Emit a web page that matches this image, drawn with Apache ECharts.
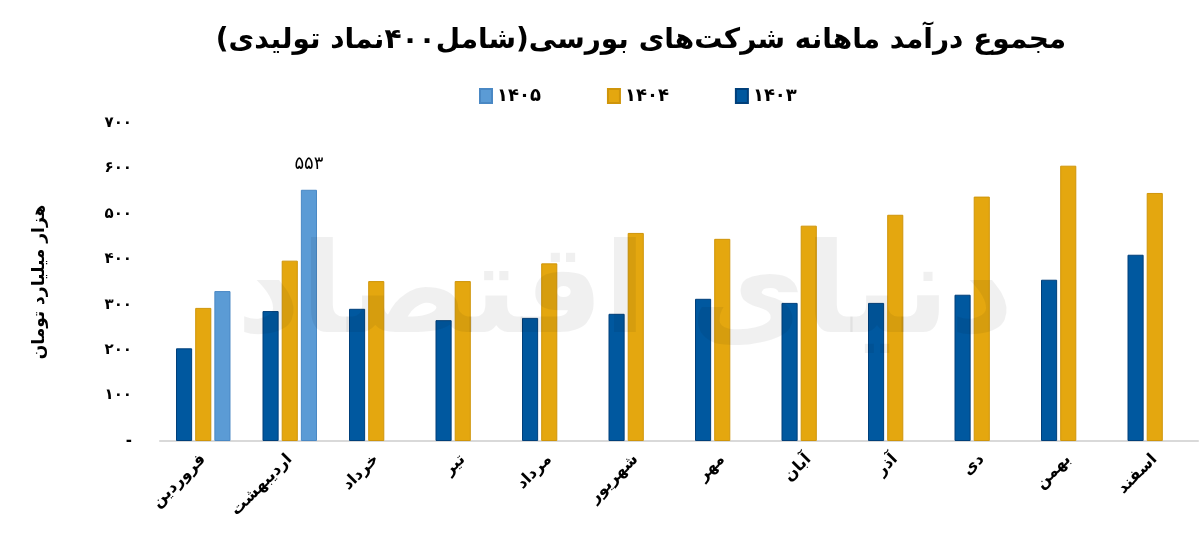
<!DOCTYPE html>
<html><head><meta charset="utf-8">
<script src="https://cdn.jsdelivr.net/npm/echarts@6/dist/echarts.min.js"></script>
<style>html,body{margin:0;padding:0;background:#fff}#c{width:1200px;height:556px}</style>
</head><body><div id="c"></div>
<script>
const categories = ['فروردین','اردیبهشت','خرداد','تیر','مرداد','شهریور','مهر','آبان','آذر','دی','بهمن','اسفند'];
const s1403 = [204, 286, 291, 266, 271, 280, 313, 304, 304, 322, 355, 410];
const s1404 = [293, 397, 352, 352, 391, 458, 445, 474, 498, 538, 606, 546];
const s1405 = [330, 553, null, null, null, null, null, null, null, null, null, null];
const seriesNames = ['۱۴۰۳', '۱۴۰۴', '۱۴۰۵'];
const yTickLabels = ['-', '۱۰۰', '۲۰۰', '۳۰۰', '۴۰۰', '۵۰۰', '۶۰۰', '۷۰۰'];
const labeledBar = { series: 2, index: 1, text: '۵۵۳' };

const FONT = 'DejaVu Sans';
const chart = echarts.init(document.getElementById('c'), null, { renderer: 'canvas' });
const colors = ['#00589f', '#e4a70f', '#5b9bd5'];
const borders = ['#003f7a', '#cf950a', '#4a88c4'];
const dataSets = [s1403, s1404, s1405];

chart.setOption({
  animation: false,
  backgroundColor: '#fff',
  textStyle: { fontFamily: FONT },
  title: {
    text: 'مجموع درآمد ماهانه شرکت‌های بورسی(شامل۴۰۰نماد تولیدی)',
    left: 636, top: 22, textAlign: 'center',
    textStyle: { fontFamily: FONT, fontSize: 28, fontWeight: 'bold', color: '#000' }
  },
  legend: {
    data: ['۱۴۰۵', '۱۴۰۴', '۱۴۰۳'],
    left: 474, top: 82,
    itemWidth: 12, itemHeight: 14, itemGap: 66,
    icon: 'rect',
    textStyle: { fontFamily: FONT, fontSize: 18, fontWeight: 'bold', color: '#000' }
  },
  grid: { left: 160, right: 2, top: 123, bottom: 115, containLabel: false },
  xAxis: {
    type: 'category', data: categories,
    axisLine: { lineStyle: { color: '#d9d9d9', width: 2 } },
    axisTick: { show: false },
    axisLabel: { rotate: 45, margin: 16, interval: 0, fontFamily: FONT, fontSize: 16, fontWeight: 'bold', color: '#000' }
  },
  yAxis: {
    type: 'value', min: 0, max: 700, interval: 100,
    name: 'هزار میلیارد تومان', nameLocation: 'middle', nameRotate: 90, nameGap: 112,
    nameTextStyle: { fontFamily: FONT, fontSize: 17, fontWeight: 'bold', color: '#000' },
    axisLine: { show: false }, axisTick: { show: false },
    splitLine: { show: false },
    axisLabel: {
      margin: 28, fontFamily: FONT, fontSize: 15, fontWeight: 'bold', color: '#000',
      formatter: v => yTickLabels[Math.round(v / 100)]
    }
  },
  series: dataSets.map((d, i) => ({
    name: seriesNames[i], type: 'bar',
    barGap: '19%', barCategoryGap: '37%',
    itemStyle: { color: colors[i], borderColor: borders[i], borderWidth: 1 },
    data: d.map((v, j) => (i === labeledBar.series && j === labeledBar.index)
      ? { value: v, label: { show: true, position: 'top', distance: 16, formatter: labeledBar.text,
          fontFamily: FONT, fontSize: 18, color: '#000' } }
      : v)
  })),
  graphic: [{
    type: 'text', x: 625, y: 300, silent: true, z: 100,
    style: { text: 'دنیای اقتصاد', font: 'bold 125px ' + FONT, fill: 'rgba(0,0,0,0.06)',
      align: 'center', verticalAlign: 'middle' }
  }]
});
</script></body></html>
